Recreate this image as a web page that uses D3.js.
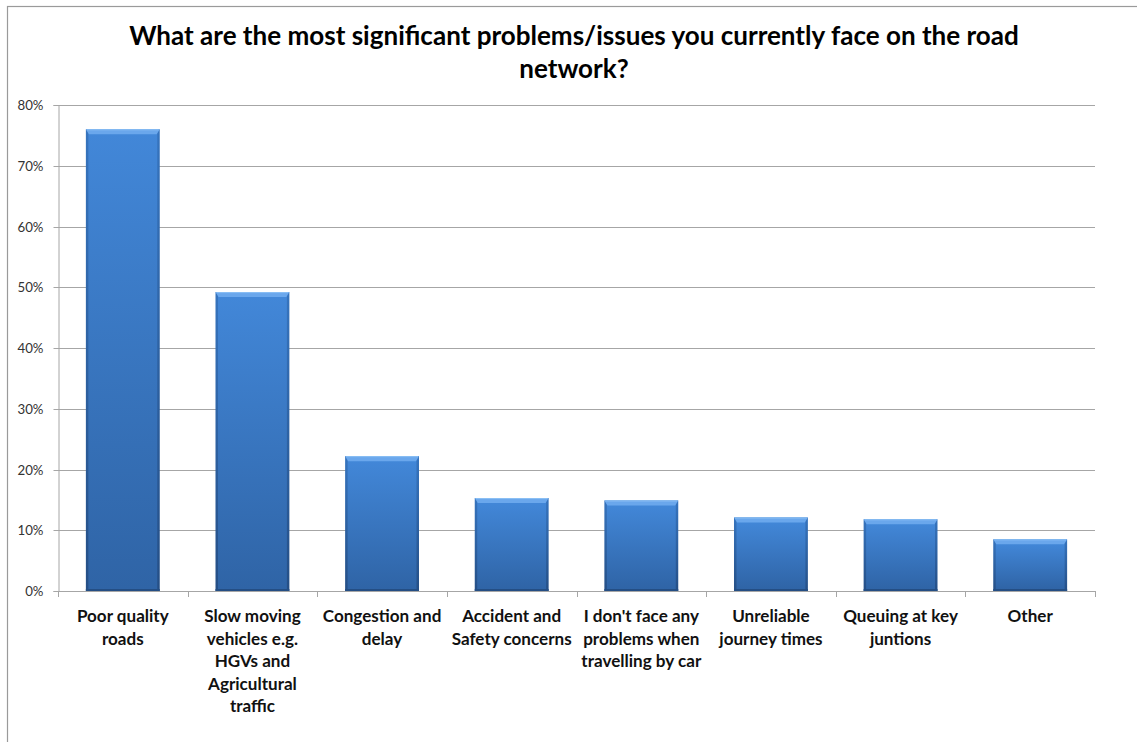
<!DOCTYPE html>
<html><head><meta charset="utf-8">
<script src="https://cdn.jsdelivr.net/npm/d3@7/dist/d3.min.js"></script>
<style>html,body{margin:0;padding:0;background:#fff;}svg{display:block;}</style>
</head><body>
<svg id="chart" width="1137" height="742"></svg>
<script>
const titleLines = ["What are the most significant problems/issues you currently face on the road", "network?"];
const categories = [
  ["Poor quality", "roads"],
  ["Slow moving", "vehicles e.g.", "HGVs and", "Agricultural", "traffic"],
  ["Congestion and", "delay"],
  ["Accident and", "Safety concerns"],
  ["I don't face any", "problems when", "travelling by car"],
  ["Unreliable", "journey times"],
  ["Queuing at key", "juntions"],
  ["Other"]
];
const values = [0.76, 0.492, 0.222, 0.153, 0.149, 0.121, 0.118, 0.085];
const yTicks = [0, 0.1, 0.2, 0.3, 0.4, 0.5, 0.6, 0.7, 0.8];

const svg = d3.select("#chart");
const W = 1137, H = 742;
const m = {left: 58, right: 1095, top: 105, bottom: 591};
const FONT = "Lato, 'Open Sans', sans-serif";

function fitSize(text, base, weight, target) {
  const t = svg.append("text").attr("font-family", FONT).attr("font-weight", weight).attr("font-size", base).text(text);
  const w = t.node().getComputedTextLength();
  t.remove();
  return base * target / w;
}

// frame
svg.append("rect").attr("x", 7.5).attr("y", 6.5).attr("width", W + 10).attr("height", H + 10)
  .attr("fill", "#fff").attr("stroke", "#9a9a9a").attr("stroke-width", 1.2);

const x = d3.scaleBand().domain(d3.range(categories.length)).range([m.left, m.right]).paddingInner(0.43).paddingOuter(0.215);
const xb = d3.scaleBand().domain(d3.range(categories.length)).range([m.left, m.right]);
const y = d3.scaleLinear().domain([0, 0.8]).range([m.bottom, m.top]);

// defs
const defs = svg.append("defs");
const g1 = defs.append("linearGradient").attr("id", "barGrad").attr("x1", 0).attr("y1", 0).attr("x2", 0).attr("y2", 1);
g1.append("stop").attr("offset", "0%").attr("stop-color", "#4287d8");
g1.append("stop").attr("offset", "100%").attr("stop-color", "#2f64a6");
const g2 = defs.append("linearGradient").attr("id", "sideGrad").attr("x1", 0).attr("y1", 0).attr("x2", 0).attr("y2", 1);
g2.append("stop").attr("offset", "0%").attr("stop-color", "#3674be");
g2.append("stop").attr("offset", "100%").attr("stop-color", "#254f86");

// gridlines
svg.append("g").selectAll("line").data(yTicks.filter(d => d > 0)).join("line")
  .attr("x1", m.left).attr("x2", m.right)
  .attr("y1", d => Math.round(y(d)) + 0.5).attr("y2", d => Math.round(y(d)) + 0.5)
  .attr("stroke", "#a6a6a6").attr("stroke-width", 1);

// y axis
const yfs = fitSize("80%", 13, "normal", 26);
const yAxis = d3.axisLeft(y).tickValues(yTicks).tickFormat(d3.format(".0%")).tickSize(5).tickPadding(10);
const ya = svg.append("g").attr("transform", `translate(${m.left + 0.5},0)`).call(yAxis);
ya.select(".domain").attr("stroke", "#a6a6a6");
ya.selectAll(".tick line").attr("stroke", "#a6a6a6");
ya.selectAll(".tick").attr("transform", d => `translate(0,${Math.round(y(d)) + 0.5})`);
ya.selectAll("text").attr("font-family", FONT).attr("font-size", yfs).attr("fill", "#333");

// bars
const bars = svg.append("g");
values.forEach((v, i) => {
  const bx = x(i), bw = x.bandwidth(), by = y(v), bh = y(0) - y(v);
  const g = bars.append("g");
  g.append("rect").attr("x", bx).attr("y", by).attr("width", bw).attr("height", bh).attr("fill", "url(#sideGrad)");
  g.append("rect").attr("x", bx + 2.5).attr("y", by + 4).attr("width", bw - 5).attr("height", bh - 6).attr("fill", "url(#barGrad)");
  g.append("polygon").attr("points", `${bx},${by} ${bx + bw},${by} ${bx + bw - 3},${by + 5} ${bx + 3},${by + 5}`).attr("fill", "#6aa7ec");
  g.append("line").attr("x1", bx + 1).attr("x2", bx + bw - 1).attr("y1", by + 0.5).attr("y2", by + 0.5).attr("stroke", "#8cc0f5").attr("stroke-width", 1);
  g.append("rect").attr("x", bx).attr("y", y(0) - 2).attr("width", bw).attr("height", 2).attr("fill", "#244e84");
});

// x axis
svg.append("line").attr("x1", m.left).attr("x2", m.right).attr("y1", m.bottom + 0.5).attr("y2", m.bottom + 0.5).attr("stroke", "#a6a6a6");
svg.append("g").selectAll("line").data(d3.range(categories.length + 1)).join("line")
  .attr("x1", d => Math.round(d < categories.length ? xb(d) : m.right) + 0.5)
  .attr("x2", d => Math.round(d < categories.length ? xb(d) : m.right) + 0.5)
  .attr("y1", m.bottom).attr("y2", m.bottom + 6).attr("stroke", "#a6a6a6");

// x labels
const xfs = fitSize("Safety concerns", 14.5, "bold", 120);
const xl = svg.append("g");
categories.forEach((lines, i) => {
  const t = xl.append("text").attr("text-anchor", "middle").attr("font-family", FONT).attr("font-weight", "bold")
    .attr("font-size", xfs).attr("fill", "#111");
  lines.forEach((ln, j) => {
    t.append("tspan").attr("x", xb(i) + xb.bandwidth() / 2).attr("y", 622 + j * 22.5).text(ln);
  });
});

// title
const tfs = fitSize(titleLines[0], 22, "bold", 890);
const tt = svg.append("g");
titleLines.forEach((ln, j) => {
  tt.append("text").attr("x", 574).attr("y", 45 + j * 33).attr("text-anchor", "middle")
    .attr("font-family", FONT).attr("font-weight", "bold").attr("font-size", tfs).attr("fill", "#000").text(ln);
});
</script>
</body></html>
